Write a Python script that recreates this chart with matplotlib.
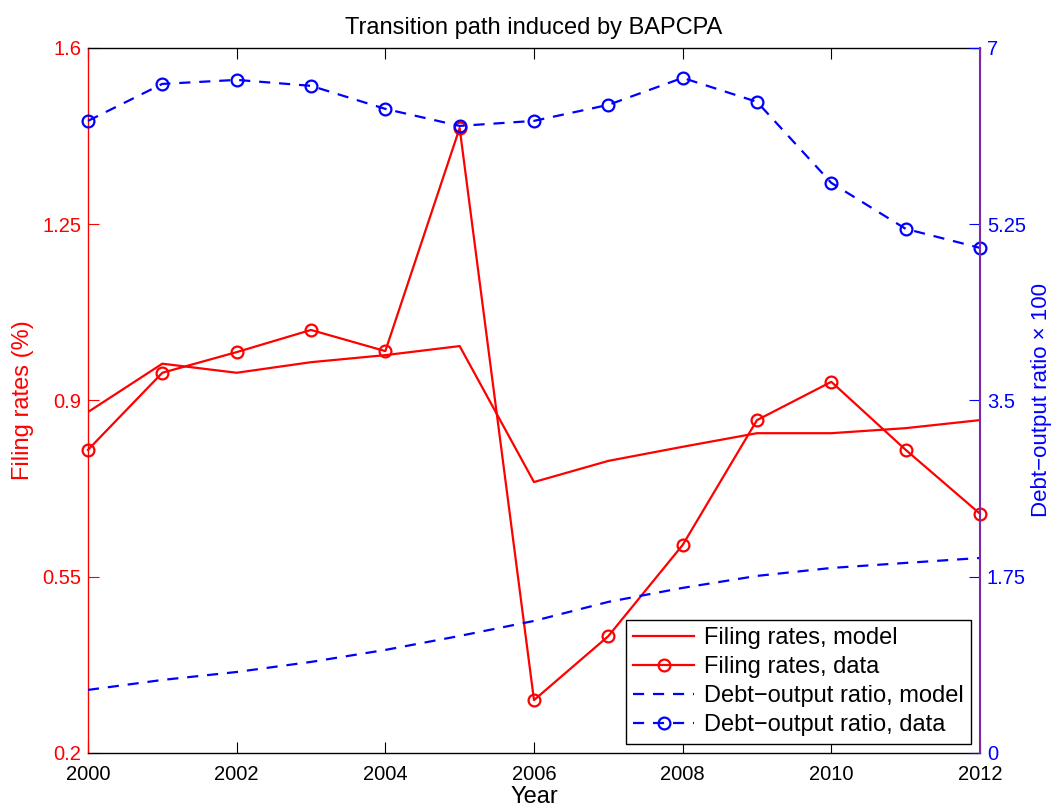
import matplotlib.pyplot as plt
import numpy as np

plt.rcParams['font.family'] = ['Liberation Sans', 'DejaVu Sans']

years = [2000, 2001, 2002, 2003, 2004, 2005, 2006, 2007, 2008, 2009, 2010, 2011, 2012]

filing_model = [0.877, 0.973, 0.955, 0.976, 0.990, 1.008, 0.738, 0.780, 0.808, 0.835, 0.835, 0.845, 0.861]
filing_data = [0.802, 0.955, 0.996, 1.040, 0.998, 1.441, 0.305, 0.432, 0.613, 0.861, 0.937, 0.802, 0.675]

debt_model = [0.626, 0.725, 0.804, 0.904, 1.023, 1.162, 1.311, 1.500, 1.639, 1.758, 1.837, 1.887, 1.936]
debt_data = [6.276, 6.643, 6.683, 6.624, 6.395, 6.226, 6.276, 6.435, 6.703, 6.465, 5.660, 5.204, 5.015]

left_ticks = [0.2, 0.55, 0.9, 1.25, 1.6]
left_labels = ['0.2', '0.55', '0.9', '1.25', '1.6']
right_ticks = [0, 1.75, 3.5, 5.25, 7]
right_labels = ['0', '1.75', '3.5', '5.25', '7']
x_ticks = [2000, 2002, 2004, 2006, 2008, 2010, 2012]

red = '#ff0000'
blue = '#0000ff'
purple = '#7a2aa8'

fig = plt.figure(figsize=(10.55, 8.06), dpi=100)
ax = fig.add_axes([0.0834, 0.0658, 0.8455, 0.8747])
ax2 = ax.twinx()

lw = 1.6
ms = 8.5
dash = (5, 4)

l1, = ax.plot(years, filing_model, color=red, lw=lw)
l2, = ax.plot(years, filing_data, color=red, lw=lw, marker='o', ms=ms,
              mfc='none', mew=1.6, clip_on=False)
l3, = ax2.plot(years, debt_model, color=blue, lw=lw, ls=(0, dash))
l4, = ax2.plot(years, debt_data, color=blue, lw=lw, ls=(0, dash), marker='o', ms=ms,
               mfc='none', mew=1.6, clip_on=False)

ax.set_xlim(2000, 2012)
ax.set_ylim(0.2, 1.6)
ax2.set_ylim(0, 7)

ax.set_xticks(x_ticks)
ax.set_yticks(left_ticks)
ax.set_yticklabels(left_labels)
ax2.set_yticks(right_ticks)
ax2.set_yticklabels(right_labels)

ax.tick_params(axis='x', direction='in', top=True, length=8, labelsize=14.5, colors='black', pad=9)
ax.tick_params(axis='y', direction='in', length=8, labelsize=14.5, colors=red, pad=5)
ax2.tick_params(axis='y', direction='in', length=8, labelsize=14.5, colors=blue, pad=5)

ax.spines['left'].set_color(red)
ax.spines['right'].set_visible(False)
ax2.spines['left'].set_visible(False)
ax2.spines['top'].set_visible(False)
ax2.spines['bottom'].set_visible(False)
ax2.spines['right'].set_color(purple)
for s in ax.spines.values():
    s.set_linewidth(1.0)
ax2.spines['right'].set_linewidth(1.5)

ax.set_xlabel('Year', fontsize=17, labelpad=1)
ax.set_ylabel('Filing rates (%)', fontsize=17, color=red, labelpad=6)
ax2.set_ylabel('Debt\u2212output ratio \u00d7 100', fontsize=16, color=blue, labelpad=4)
ax.set_title('Transition path induced by BAPCPA', fontsize=17, pad=10)

leg = ax2.legend([l1, l2, l3, l4],
                 ['Filing rates, model', 'Filing rates, data',
                  'Debt\u2212output ratio, model', 'Debt\u2212output ratio, data'],
                 loc='lower right', fontsize=17, handlelength=2.6, borderaxespad=0.4,
                 fancybox=False, framealpha=1, edgecolor='black',
                 labelspacing=0.3, borderpad=0.3, handletextpad=0.4)
leg.get_frame().set_linewidth(1.0)

fig.savefig('out.png', dpi=100)
